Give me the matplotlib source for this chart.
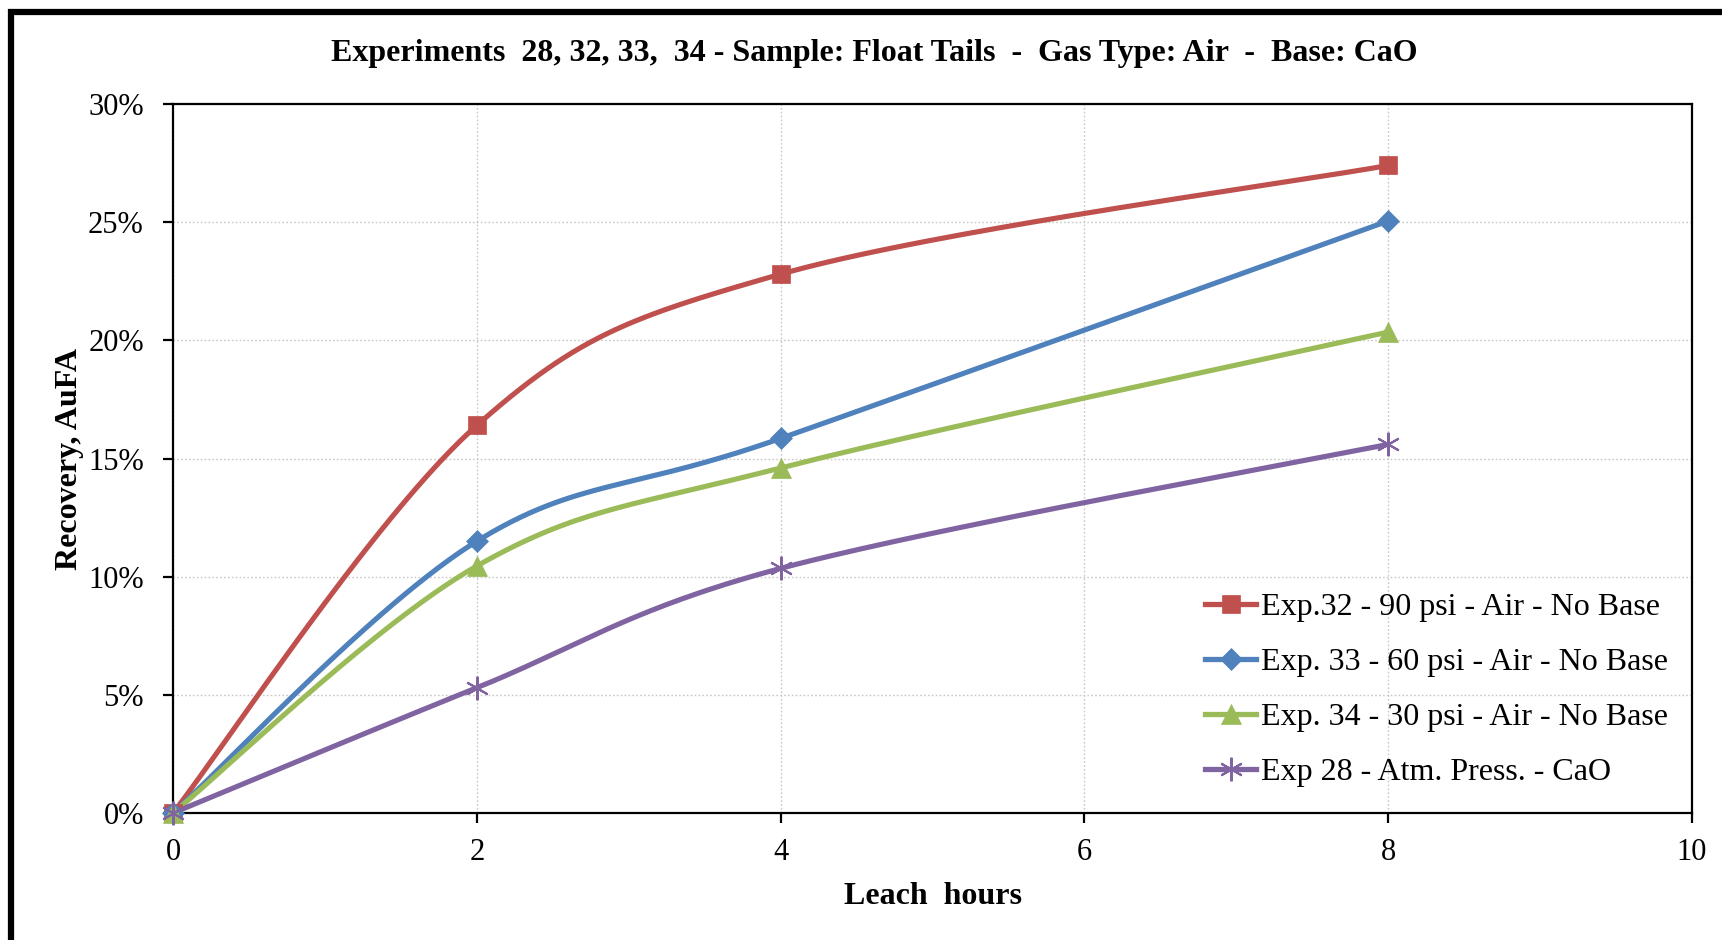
import numpy as np
import matplotlib
matplotlib.use("Agg")
import matplotlib.pyplot as plt
from matplotlib.lines import Line2D
from matplotlib.patches import Rectangle

plt.rcParams['font.family'] = ['Liberation Serif', 'DejaVu Serif']

hours = [0, 2, 4, 8]
exp32 = [0.0, 16.4, 22.8, 27.4]
exp33 = [0.0, 11.5, 15.85, 25.05]
exp34 = [0.0, 10.45, 14.6, 20.35]
exp28 = [0.0, 5.3, 10.35, 15.6]

labels = ["Exp.32 - 90 psi - Air - No Base",
          "Exp. 33 - 60 psi - Air - No Base",
          "Exp. 34 - 30 psi - Air - No Base",
          "Exp 28 - Atm. Press. - CaO"]
colors = ["#C0504D", "#4F81BD", "#9BBB59", "#8064A2"]
markers = ["s", "D", "^", (6, 2, 0)]
msizes = [12.5, 11.5, 14, 17]
series = [exp32, exp33, exp34, exp28]

title = "Experiments  28, 32, 33,  34 - Sample: Float Tails  -  Gas Type: Air  -  Base: CaO"
xlabel = "Leach  hours"
ylabel = "Recovery, AuFA"
xticks = [0, 2, 4, 6, 8, 10]
yticks = [0, 5, 10, 15, 20, 25, 30]


def excel_smooth(x, y, n=60):
    x = np.asarray(x, float)
    y = np.asarray(y, float)
    px = np.concatenate([[x[0]], x, [x[-1]]])
    py = np.concatenate([[y[0]], y, [y[-1]]])
    xs, ys = [], []
    t = np.linspace(0, 1, n)
    for i in range(1, len(px) - 2):
        p0 = np.array([px[i], py[i]])
        p3 = np.array([px[i + 1], py[i + 1]])
        c1 = p0 + (np.array([px[i + 1], py[i + 1]]) - np.array([px[i - 1], py[i - 1]])) / 6
        c2 = p3 - (np.array([px[i + 2], py[i + 2]]) - np.array([px[i], py[i]])) / 6
        b = ((1 - t) ** 3)[:, None] * p0 + (3 * (1 - t) ** 2 * t)[:, None] * c1 \
            + (3 * (1 - t) * t ** 2)[:, None] * c2 + (t ** 3)[:, None] * p3
        xs.append(b[:, 0])
        ys.append(b[:, 1])
    return np.concatenate(xs), np.concatenate(ys)


def marker_kw(m, c):
    if m == (6, 2, 0):
        return dict(markeredgecolor=c, markeredgewidth=1.5)
    return dict(markerfacecolor=c, markeredgecolor=c, markeredgewidth=0.5)


W, H = 1722, 940
fig = plt.figure(figsize=(W / 100, H / 100), dpi=100)
ax = fig.add_axes([173 / W, 1 - 813 / H, 1519 / W, 709 / H])

for ys, c, m, ms in zip(series, colors, markers, msizes):
    sx, sy = excel_smooth(hours, ys)
    ax.plot(sx, sy, color=c, lw=3.7, solid_capstyle='round', zorder=3, clip_on=False)
    ax.plot(hours, ys, linestyle='none', marker=m, markersize=ms, zorder=4,
            clip_on=False, **marker_kw(m, c))

ax.set_xlim(0, 10)
ax.set_ylim(0, 30)
ax.set_xticks(xticks)
ax.set_xticklabels([str(v) for v in xticks])
ax.set_yticks(yticks)
ax.set_yticklabels([f"{v}%" for v in yticks])
ax.tick_params(axis='both', direction='out', length=7, width=1.6, labelsize=22, colors='black')
ax.tick_params(axis='x', pad=11)
ax.tick_params(axis='y', pad=14)
for s in ax.spines.values():
    s.set_linewidth(1.6)
ax.grid(True, color='#C8C8C8', linestyle=(0, (1.2, 1.6)), linewidth=1.0)
ax.set_axisbelow(True)

fig.text(874 / W, 1 - 53 / H, title, ha='center', va='center', fontsize=23, fontweight='bold')
fig.text(933 / W, 1 - 896 / H, xlabel, ha='center', va='center', fontsize=23, fontweight='bold')
fig.text(69 / W, 1 - 459 / H, ylabel, ha='center', va='center', fontsize=23,
         fontweight='bold', rotation=90)

handles = [Line2D([], [], color=c, lw=3.8, marker=m, markersize=ms, **marker_kw(m, c))
           for c, m, ms in zip(colors, markers, msizes)]
leg = fig.legend(handles, labels, loc='upper left', bbox_to_anchor=(1205 / W, 1 - 593 / H),
                 frameon=False, fontsize=23, handlelength=1.6, handletextpad=0.15,
                 labelspacing=0.80, borderpad=0, borderaxespad=0)

fig.patches.append(Rectangle((11 / W, -0.1), 1.2, 1 - 12 / H + 0.1, transform=fig.transFigure,
                             fill=False, edgecolor='black', linewidth=4.5, zorder=0))

fig.savefig("out.png", dpi=100)
